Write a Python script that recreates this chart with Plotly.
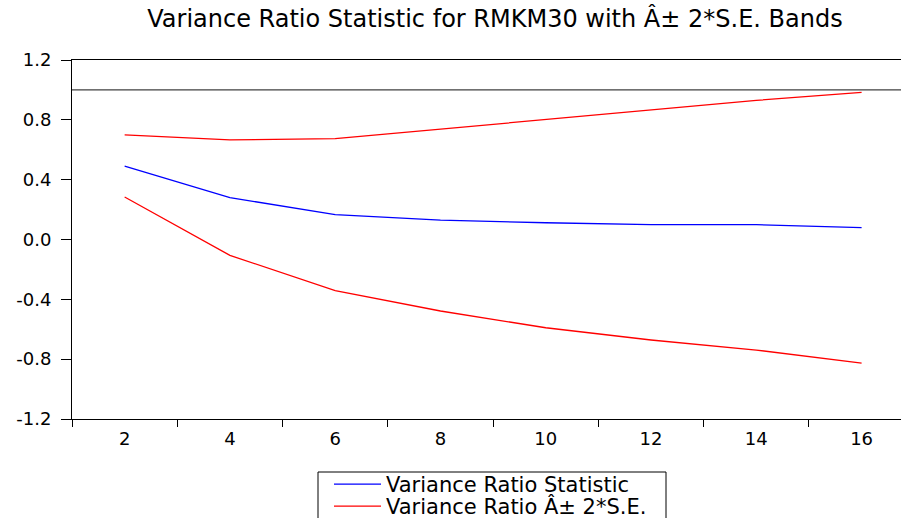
import plotly.graph_objects as go

# Variance ratio test results by holding period
periods = [2, 4, 6, 8, 10, 12, 14, 16]
vr_statistic = [0.490, 0.280, 0.166, 0.130, 0.112, 0.100, 0.099, 0.079]
vr_upper = [0.699, 0.666, 0.674, 0.739, 0.804, 0.866, 0.930, 0.983]
vr_lower = [0.284, -0.106, -0.342, -0.478, -0.590, -0.672, -0.739, -0.826]

reference_level = 1.0
y_ticks = [1.2, 0.8, 0.4, 0.0, -0.4, -0.8, -1.2]
x_label_ticks = [2, 4, 6, 8, 10, 12, 14, 16]
x_minor_ticks = [1, 3, 5, 7, 9, 11, 13, 15]

FONT = "DejaVu Sans"

# plot area geometry in pixels (used to place legend pieces in paper units)
W, H = 901, 518
L, T, B = 72, 60, 99
PW = W - L
PH = H - T - B


def px_x(px):
    return (px - L) / PW


def px_y(py):
    return (H - B - py) / PH


fig = go.Figure()
fig.add_trace(go.Scatter(
    x=periods, y=vr_statistic, mode="lines",
    name="Variance Ratio Statistic", legend="legend",
    line=dict(color="#0000FF", width=1.3),
))
fig.add_trace(go.Scatter(
    x=periods, y=vr_upper, mode="lines",
    name="Variance Ratio \u00c2\u00b1 2*S.E.", legend="legend2",
    line=dict(color="#FF0000", width=1.3),
))
fig.add_trace(go.Scatter(
    x=periods, y=vr_lower, mode="lines",
    name="lower band", showlegend=False,
    line=dict(color="#FF0000", width=1.3),
))

# reference line at a ratio of one
fig.add_shape(
    type="line", xref="paper", x0=0, x1=1, yref="y",
    y0=reference_level, y1=reference_level,
    line=dict(color="#404040", width=1.2),
)

# frame around the legend entries
fig.add_shape(
    type="rect", xref="paper", yref="paper",
    x0=px_x(318), x1=px_x(666), y0=px_y(472), y1=px_y(540),
    line=dict(color="black", width=1), fillcolor="rgba(0,0,0,0)",
)

legend_common = dict(
    xanchor="left", yanchor="top",
    borderwidth=0, bgcolor="rgba(0,0,0,0)",
    font=dict(family=FONT, size=21, color="black"),
    itemwidth=47,
)

fig.update_layout(
    width=W, height=H,
    margin=dict(l=L, r=0, t=T, b=B, autoexpand=False),
    paper_bgcolor="white", plot_bgcolor="white",
    font=dict(family=FONT, color="black"),
    title=dict(
        text="Variance Ratio Statistic for RMKM30 with \u00c2\u00b1 2*S.E. Bands",
        font=dict(family=FONT, size=24, color="black"),
        xref="paper", x=px_x(495), xanchor="center",
        yref="container", y=1 - 19 / H, yanchor="middle",
    ),
    showlegend=True,
    legend=dict(x=px_x(329), y=px_y(464.0), **legend_common),
    legend2=dict(x=px_x(329), y=px_y(486.0), **legend_common),
    xaxis=dict(
        range=[1, 1 + PW / 52.64],
        showgrid=False, zeroline=False,
        showline=True, linecolor="black", linewidth=1, mirror=True,
        tickvals=x_label_ticks, ticks="",
        ticklabelstandoff=3,
        tickfont=dict(family=FONT, size=18, color="black"),
        minor=dict(tickvals=x_minor_ticks, ticks="outside", ticklen=7,
                   tickcolor="black", tickwidth=1, showgrid=False),
        fixedrange=True,
    ),
    yaxis=dict(
        range=[-1.2, 1.2],
        showgrid=False, zeroline=False,
        showline=True, linecolor="black", linewidth=1, mirror=False,
        tickvals=y_ticks, ticktext=[f"{v:.1f}" for v in y_ticks],
        ticks="outside", ticklen=10, tickcolor="black", tickwidth=1,
        ticklabelstandoff=6,
        tickfont=dict(family=FONT, size=18, color="black"),
        fixedrange=True,
    ),
)

fig.write_html("out.html")
